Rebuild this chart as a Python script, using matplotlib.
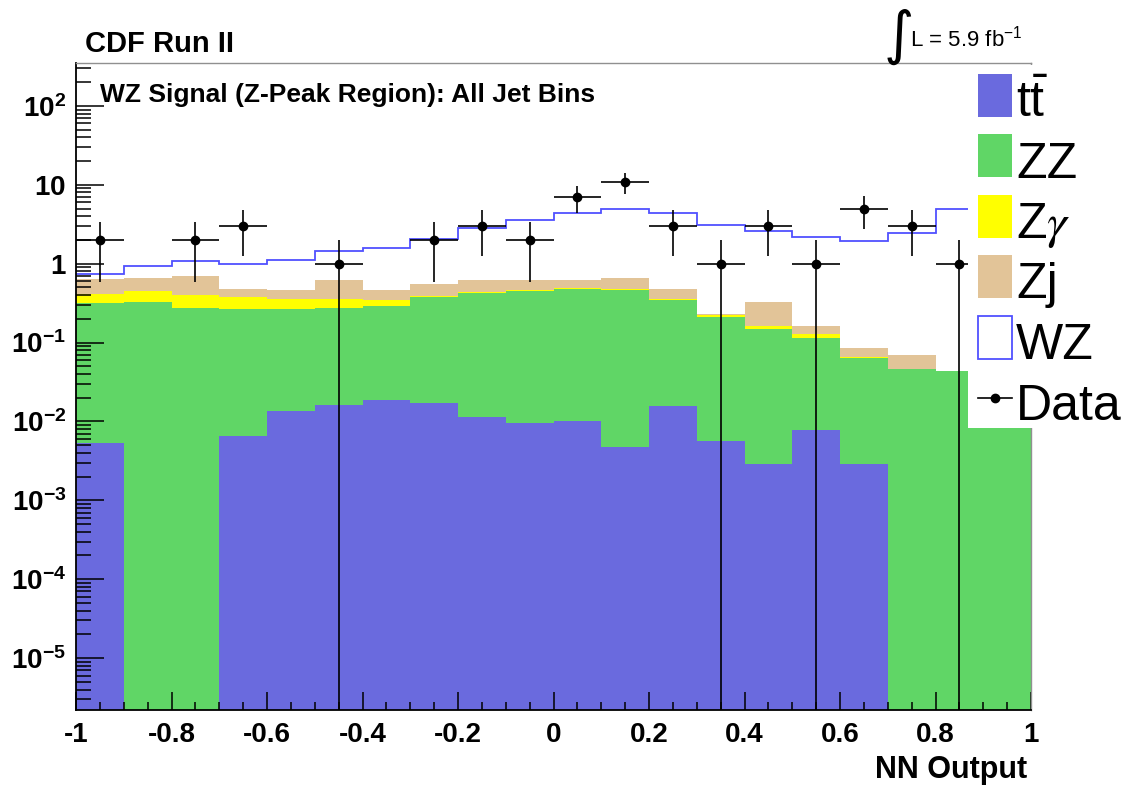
import numpy as np
import matplotlib
matplotlib.use("Agg")
import matplotlib.pyplot as plt
from matplotlib.patches import Rectangle
from matplotlib.ticker import LogLocator, MultipleLocator, NullFormatter

plt.rcParams['font.family'] = ['Liberation Sans', 'DejaVu Sans']
plt.rcParams['mathtext.fontset'] = 'custom'
plt.rcParams['mathtext.rm'] = 'Liberation Sans'
plt.rcParams['mathtext.bf'] = 'Liberation Sans:bold'
plt.rcParams['mathtext.it'] = 'Liberation Sans:italic'
plt.rcParams['mathtext.default'] = 'regular'

# NN output, 20 bins on [-1, 1]
edges = np.linspace(-1, 1, 21)
centers = 0.5 * (edges[:-1] + edges[1:])

# expected events per bin for each process
ttbar = [0.0054, 0, 0, 0.0065, 0.0136, 0.0161, 0.0187, 0.0170, 0.0115, 0.0095,
         0.0101, 0.0047, 0.0157, 0.0057, 0.0029, 0.0079, 0.0029, 0, 0, 0]
zz = [0.315, 0.330, 0.277, 0.258, 0.250, 0.261, 0.271, 0.365, 0.418, 0.441,
      0.472, 0.458, 0.330, 0.207, 0.144, 0.107, 0.0615, 0.0457, 0.0435, 0.040]
zgamma = [0.088, 0.120, 0.119, 0.118, 0.096, 0.083, 0.056, 0.012, 0.010, 0.008,
          0.009, 0.009, 0.008, 0.012, 0.015, 0.012, 0.0005, 0, 0, 0]
zjets = [0.224, 0.215, 0.301, 0.090, 0.099, 0.260, 0.113, 0.153, 0.181, 0.157,
         0.129, 0.185, 0.128, 0.003, 0.168, 0.035, 0.021, 0.023, 0, 0]
wz = [0.100, 0.268, 0.382, 0.528, 0.641, 0.81, 1.12, 1.48, 2.24, 2.93,
      3.72, 4.22, 3.86, 2.84, 2.26, 2.04, 1.84, 2.40, 4.84, 4.86]
data = [2, 0, 2, 3, 0, 1, 0, 2, 3, 2, 7, 11, 3, 1, 3, 1, 5, 3, 1, 0]

c_tt = '#6a6ade'
c_zz = '#60d666'
c_zg = '#ffff00'
c_zj = '#e2c498'
c_wz = '#5050ff'

W, H = 1142, 787


def px(x, y):
    return x / W, 1 - y / H


fig = plt.figure(figsize=(W / 100, H / 100), dpi=100)
ax = fig.add_axes([76 / W, 1 - 710 / H, (1031 - 76) / W, (710 - 63) / H])
ax.set_yscale('log')

# stacked backgrounds
bottom = np.zeros(len(centers))
for vals, col in [(ttbar, c_tt), (zz, c_zz), (zgamma, c_zg), (zjets, c_zj)]:
    top = bottom + np.array(vals)
    ax.stairs(top, edges, baseline=bottom, fill=True, color=col, linewidth=0)
    bottom = top

# WZ signal on top of the stack, outline only
ax.stairs(bottom + np.array(wz), edges, baseline=None, color=c_wz, linewidth=1.3)

# data with Poisson errors
n = np.array(data, dtype=float)
m = n > 0
ax.errorbar(centers[m], n[m], xerr=0.05, yerr=np.sqrt(n[m]), fmt='o',
            color='black', ms=6, elinewidth=1.2, capsize=0, zorder=5)

ax.set_xlim(-1, 1)
ax.set_ylim(2.2e-6, 350)

xt = np.round(np.arange(-1, 1.01, 0.2), 1) + 0.0
ax.set_xticks(xt, labels=['%g' % (0 if abs(v) < 1e-9 else v) for v in xt],
              fontsize=20, fontweight='bold')
ax.xaxis.set_minor_locator(MultipleLocator(0.05))

yt = 10.0 ** np.arange(-5, 3)
ylabels = []
for e in range(-5, 3):
    if e == 0:
        ylabels.append(r'$\mathbf{1}$')
    elif e == 1:
        ylabels.append(r'$\mathbf{10}$')
    else:
        ylabels.append(r'$\mathbf{10^{%d}}$' % e)
ax.set_yticks(yt, labels=ylabels, fontsize=20)
ax.yaxis.set_minor_locator(LogLocator(base=10, subs=np.arange(2, 10), numticks=20))
ax.yaxis.set_minor_formatter(NullFormatter())

ax.tick_params(axis='x', which='major', direction='in', length=13, width=1.1, pad=9)
ax.tick_params(axis='x', which='minor', direction='in', length=6, width=1.1)
ax.tick_params(axis='y', which='major', direction='in', length=20, width=1.1, pad=7)
ax.tick_params(axis='y', which='minor', direction='in', length=11, width=1.1)

for s in ['left', 'bottom']:
    ax.spines[s].set_linewidth(1.3)
    ax.spines[s].set_color('black')
for s in ['top', 'right']:
    ax.spines[s].set_linewidth(1.0)
    ax.spines[s].set_color('#909090')

# titles and annotations
fig.text(*px(85, 52), 'CDF Run II', fontsize=21, fontweight='bold', va='baseline')
fig.text(*px(100, 102), 'WZ Signal (Z-Peak Region): All Jet Bins', fontsize=19,
         fontweight='bold', va='baseline')
fig.text(*px(884, 53), '\u222b', fontsize=42, family='DejaVu Sans', va='baseline')
fig.text(*px(910, 46), r'L = 5.9 fb$^{-1}$', fontsize=16, va='baseline')
fig.text(*px(1027, 778), 'NN Output', fontsize=22, fontweight='bold',
         ha='right', va='baseline')

# legend box
lax = fig.add_axes([968 / W, 1 - 428 / H, (W - 968) / W, (428 - 65) / H])
lax.set_xlim(0, W - 968)
lax.set_ylim(428 - 65, 0)
lax.set_facecolor('white')
lax.set_xticks([])
lax.set_yticks([])
for s in lax.spines.values():
    s.set_visible(False)

entries = [(r'$\mathrm{t\bar{t}}$', c_tt), ('ZZ', c_zz), (r'Z$\mathit{\gamma}$', c_zg),
           ('Zj', c_zj), ('WZ', None), ('Data', 'data')]
for i, (lbl, col) in enumerate(entries):
    cy = 30 + 60.5 * i
    if col == 'data':
        lax.plot([10, 44], [cy, cy], color='black', lw=1.2)
        lax.plot([27], [cy], 'o', color='black', ms=6)
    elif col is None:
        lax.add_patch(Rectangle((10, cy - 21.5), 34, 43, facecolor='white',
                                edgecolor=c_wz, lw=1.3))
    else:
        lax.add_patch(Rectangle((10, cy - 21.5), 34, 43, facecolor=col, lw=0))
    kw = {}
    if 'gamma' in lbl:
        kw['math_fontfamily'] = 'stix'
    lax.text(48, cy + 22, lbl, fontsize=36, va='baseline', **kw)

fig.savefig('out.png', dpi=100)
